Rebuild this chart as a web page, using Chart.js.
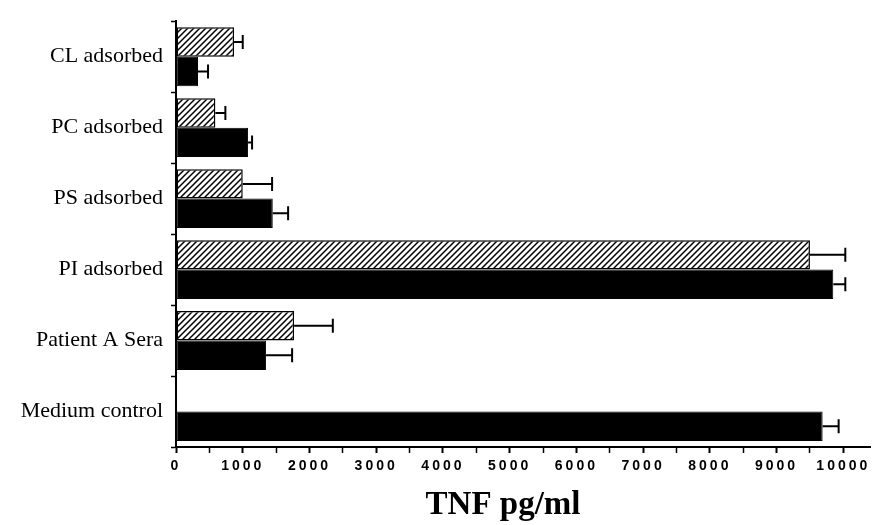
<!DOCTYPE html>
<html>
<head>
<meta charset="utf-8">
<script src="https://cdn.jsdelivr.net/npm/chart.js@4.4.1/dist/chart.umd.min.js"></script>
<style>
  html, body { margin: 0; padding: 0; background: #fff; }
  #wrap { width: 878px; height: 525px; }
</style>
</head>
<body>
<div id="wrap"><canvas id="tnfChart" width="878" height="525"></canvas></div>
<script>
// categories (top to bottom)
var categories = ['CL adsorbed', 'PC adsorbed', 'PS adsorbed', 'PI adsorbed', 'Patient A Sera', 'Medium control'];
// hatched series and its error (+ only)
var hatchedValues = [870, 590, 1000, 9500, 1770, null];
var hatchedErrors = [130, 150, 440, 530, 580, null];
// solid black series and its error
var solidValues = [330, 1080, 1450, 9850, 1350, 9690];
var solidErrors = [150, 60, 230, 180, 390, 240];
// x axis ticks
var xTicks = [0, 1000, 2000, 3000, 4000, 5000, 6000, 7000, 8000, 9000, 10000];
var xMinorStep = 500;

// diagonal hatch pattern
function makeHatch() {
    var c = document.createElement('canvas');
    c.width = 6; c.height = 6;
    var g = c.getContext('2d');
    g.fillStyle = '#fff';
    g.fillRect(0, 0, 6, 6);
    g.strokeStyle = '#000';
    g.lineWidth = 1.5;
    g.beginPath();
    g.moveTo(0, 6); g.lineTo(6, 0);
    g.moveTo(-3, 3); g.lineTo(3, -3);
    g.moveTo(3, 9); g.lineTo(9, 3);
    g.stroke();
    return g.createPattern(c, 'repeat');
}

// linear scale: letter-spaced tick labels, title set a bit left like the original
class SpacedLinear extends Chart.LinearScale {
    drawLabels(area) {
        var ctx = this.ctx;
        ctx.save();
        ctx.letterSpacing = '3px';
        super.drawLabels(area);
        ctx.restore();
    }
    drawTitle() {
        var ctx = this.ctx;
        ctx.save();
        ctx.translate(-20, 0);
        super.drawTitle();
        ctx.restore();
    }
}
SpacedLinear.id = 'spacedLinear';
SpacedLinear.defaults = Chart.LinearScale.defaults;
Chart.register(SpacedLinear);

// error bars: line from bar end to value+error, with a cap
var errorBars = {
    id: 'errorBars',
    afterDatasetsDraw: function(chart) {
        var ctx = chart.ctx;
        var xs = chart.scales.x;
        ctx.save();
        ctx.strokeStyle = '#000';
        ctx.lineWidth = 2;
        chart.data.datasets.forEach(function(ds, di) {
            var meta = chart.getDatasetMeta(di);
            meta.data.forEach(function(bar, i) {
                var v = ds.data[i], e = ds.errors[i];
                if (v == null || e == null) return;
                var x1 = xs.getPixelForValue(v + e);
                ctx.beginPath();
                ctx.moveTo(bar.x, bar.y);
                ctx.lineTo(x1, bar.y);
                ctx.moveTo(x1, bar.y - 7);
                ctx.lineTo(x1, bar.y + 7);
                ctx.stroke();
            });
        });
        ctx.restore();
    }
};

var ctx = document.getElementById('tnfChart').getContext('2d');
var tnfChart = new Chart(ctx, {
    type: 'bar',
    data: {
        labels: categories,
        datasets: [
            {
                label: 'hatched',
                data: hatchedValues,
                errors: hatchedErrors,
                backgroundColor: makeHatch(),
                borderColor: '#000',
                borderWidth: 1.5,
                borderSkipped: false
            },
            {
                label: 'solid',
                data: solidValues,
                errors: solidErrors,
                backgroundColor: '#000',
                borderColor: '#000',
                borderWidth: 1,
                borderSkipped: false
            }
        ]
    },
    options: {
        indexAxis: 'y',
        responsive: false,
        animation: false,
        devicePixelRatio: 1,
        categoryPercentage: 0.83,
        barPercentage: 1.0,
        layout: { padding: { top: 14, right: 8, left: 0, bottom: 0 } },
        plugins: { legend: { display: false }, tooltip: { enabled: false } },
        scales: {
            x: {
                type: 'spacedLinear',
                min: 0,
                max: 10400,
                afterBuildTicks: function(scale) {
                    var t = [];
                    for (var v = 0; v <= 10000; v += xMinorStep) t.push({ value: v });
                    scale.ticks = t;
                },
                afterFit: function(scale) { scale.height = 78; },
                grid: {
                    drawOnChartArea: false,
                    drawTicks: true,
                    tickLength: 6,
                    tickColor: '#000',
                    tickWidth: function(c) { return c.tick && xTicks.indexOf(c.tick.value) >= 0 ? 2 : 1.5; }
                },
                border: { color: '#000', width: 2 },
                ticks: {
                    color: '#000',
                    padding: 5,
                    maxRotation: 0,
                    autoSkip: false,
                    font: { family: 'Liberation Sans', size: 14, weight: 'bold' },
                    callback: function(value) { return xTicks.indexOf(value) >= 0 ? String(value) : ''; }
                },
                title: {
                    display: true,
                    text: 'TNF pg/ml',
                    color: '#000',
                    padding: { top: 8, bottom: 0 },
                    font: { family: 'Liberation Serif', size: 33, weight: 'bold' }
                }
            },
            y: {
                offset: true,
                afterFit: function(scale) { scale.width = 176; },
                grid: {
                    offset: true,
                    drawOnChartArea: false,
                    tickLength: 5,
                    tickColor: '#000',
                    tickWidth: 1.5
                },
                border: { color: '#000', width: 2 },
                ticks: {
                    color: '#000',
                    padding: 8,
                    font: { family: 'Liberation Serif', size: 22 }
                }
            }
        }
    },
    plugins: [errorBars]
});
</script>
</body>
</html>
